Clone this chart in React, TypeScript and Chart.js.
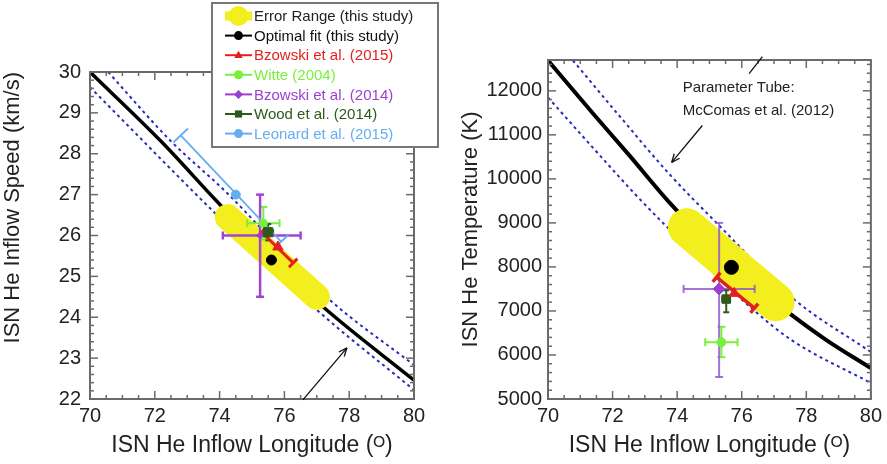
import React, { useEffect, useRef } from "react";
import { Chart, registerables } from "chart.js";

Chart.register(...registerables);

const FONT = "'Liberation Sans', Arial, sans-serif";
Chart.defaults.font.family = FONT;

// ---------- axis ticks ----------
const lonTicks = [70, 72, 74, 76, 78, 80];
const speedTicks = [22, 23, 24, 25, 26, 27, 28, 29, 30];
const tempTicks = [5000, 6000, 7000, 8000, 9000, 10000, 11000, 12000];

// ---------- names ----------
const errorRangeName = "Error Range (this study)";
const studyNames = [
  "Optimal fit (this study)",
  "Bzowski et al. (2015)",
  "Witte (2004)",
  "Bzowski et al. (2014)",
  "Wood et al. (2014)",
  "Leonard et al. (2015)",
];

// ---------- left panel: speed vs longitude ----------
const speedFitLon = [70, 72.2, 73.9, 75.6, 77.2, 80];
const speedFitVal = [30, 28.3, 26.85, 25.45, 24.25, 22.46];
const speedTubeHiLon = [70.56, 72.47, 74.23, 77.31, 80];
const speedTubeHiVal = [30, 28.33, 27.04, 24.49, 22.83];
const speedTubeLoLon = [70, 73.92, 77.0, 80];
const speedTubeLoVal = [29.63, 26.5, 24.18, 22.22];
const speedErrLon = [74.25, 77.0];
const speedErrVal = [26.45, 24.5];

// study points (order = studyNames)
const vLon = [75.6, 75.8, 75.35, 75.25, 75.5, 74.5];
const vSpeed = [25.4, 25.72, 26.3, 26.0, 26.08, 27.0];
const vLonLo = [null, null, 74.85, 74.1, 75.35, null];
const vLonHi = [null, null, 75.85, 76.5, 75.65, null];
const vSpeedLo = [null, null, 25.9, 24.5, 25.88, null];
const vSpeedHi = [null, null, 26.7, 27.0, 26.28, null];
// correlated error segments
const vBz15SegLon = [75.3, 76.27];
const vBz15SegSpeed = [26.08, 25.33];
const vLeoSegLon = [72.8, 75.9];
const vLeoSegSpeed = [28.45, 25.85];

// ---------- right panel: temperature vs longitude ----------
const tempFitLon = [70, 71.4, 72.5, 73.8, 75.68, 77.4, 78.6, 80];
const tempFitVal = [12690, 11480, 10550, 9430, 8010, 6990, 6350, 5700];
const tempTubeHiLon = [70.77, 72.13, 73.77, 75.22, 77.56, 80];
const tempTubeHiVal = [12690, 11500, 10100, 9000, 7300, 6066];
const tempTubeLoLon = [70, 71.4, 72.7, 73.86, 76.4, 77.56, 80];
const tempTubeLoVal = [11850, 10700, 9650, 8780, 7000, 6330, 5363];
const tempErrLon = [74.3, 77.05];
const tempErrVal = [8900, 7200];

const tLon = [75.68, 75.77, 75.37, 75.3, 75.52];
const tTemp = [7990, 7400, 6290, 7500, 7270];
const tLonLo = [null, null, 74.87, 74.2, 75.4];
const tLonHi = [null, null, 75.87, 76.4, 75.64];
const tTempLo = [null, null, 5950, 5500, 6970];
const tTempHi = [null, null, 6640, 9000, 7470];
const tBz15SegLon = [75.22, 76.39];
const tBz15SegTemp = [7766, 7063];

// ---------- styles ----------
const YELLOW = "#f3ee1e";
const TUBE = "#2a2ab8";
const studyColors = ["#000000", "#e3211c", "#78f03c", "#9b3fd1", "#2d5a1b", "#64aef0"];
const studyStyles = ["circle", "triangle", "circle", "rectRot", "rect", "circle"];
const leftRadius = [5, 6, 4, 3.5, 6.5, 4.5];
const rightRadius = [7, 6, 4.5, 6, 6];
const markerOrder = [1, 1, 3, 4, 2, 5];

function pts(xs: number[], ys: number[]) {
  return xs.map((x, i) => ({ x, y: ys[i] }));
}

function line(ctx: CanvasRenderingContext2D, a: number, b: number, c: number, d: number) {
  ctx.beginPath();
  ctx.moveTo(a, b);
  ctx.lineTo(c, d);
  ctx.stroke();
}

function drawMarker(ctx: CanvasRenderingContext2D, style: string, x: number, y: number, r: number, color: string) {
  ctx.fillStyle = color;
  ctx.beginPath();
  if (style === "circle") {
    ctx.arc(x, y, r, 0, Math.PI * 2);
  } else if (style === "triangle") {
    ctx.moveTo(x, y - r);
    ctx.lineTo(x + r * 0.95, y + r * 0.6);
    ctx.lineTo(x - r * 0.95, y + r * 0.6);
    ctx.closePath();
  } else if (style === "rectRot") {
    ctx.moveTo(x, y - r);
    ctx.lineTo(x + r, y);
    ctx.lineTo(x, y + r);
    ctx.lineTo(x - r, y);
    ctx.closePath();
  } else {
    ctx.rect(x - r * 0.8, y - r * 0.8, r * 1.6, r * 1.6);
  }
  ctx.fill();
}

type Bar = { x: number; y: number; xLo: any; xHi: any; yLo: any; yHi: any; color: string; width: number; cap: number };
type Seg = { x1: number; y1: number; x2: number; y2: number; color: string; width: number; cap: number };

function makeErrPlugin(bars: Bar[], segs: Seg[]) {
  return {
    id: "errBars",
    afterDatasetDraw(chart: any, args: any) {
      const ds = chart.data.datasets[args.index];
      if (!ds || !ds.errAfter) return;
      const { ctx, scales } = chart;
      const X = scales.x;
      const Y = scales.y;
      ctx.save();
      ctx.lineCap = "butt";
      for (const b of bars) {
        ctx.strokeStyle = b.color;
        ctx.lineWidth = b.width;
        const px = X.getPixelForValue(b.x);
        const py = Y.getPixelForValue(b.y);
        if (b.xLo != null) {
          const l = X.getPixelForValue(b.xLo);
          const r = X.getPixelForValue(b.xHi);
          line(ctx, l, py, r, py);
          line(ctx, l, py - b.cap, l, py + b.cap);
          line(ctx, r, py - b.cap, r, py + b.cap);
        }
        if (b.yLo != null) {
          const lo = Y.getPixelForValue(b.yLo);
          const hi = Y.getPixelForValue(b.yHi);
          line(ctx, px, lo, px, hi);
          line(ctx, px - b.cap, lo, px + b.cap, lo);
          line(ctx, px - b.cap, hi, px + b.cap, hi);
        }
      }
      for (const s of segs) {
        ctx.strokeStyle = s.color;
        ctx.lineWidth = s.width;
        const x1 = X.getPixelForValue(s.x1);
        const y1 = Y.getPixelForValue(s.y1);
        const x2 = X.getPixelForValue(s.x2);
        const y2 = Y.getPixelForValue(s.y2);
        const L = Math.hypot(x2 - x1, y2 - y1) || 1;
        const nx = (-(y2 - y1) / L) * s.cap;
        const ny = ((x2 - x1) / L) * s.cap;
        line(ctx, x1, y1, x2, y2);
        line(ctx, x1 - nx, y1 - ny, x1 + nx, y1 + ny);
        line(ctx, x2 - nx, y2 - ny, x2 + nx, y2 + ny);
      }
      ctx.restore();
    },
  };
}

function makeFramePlugin(xMajor: number, xMinor: number, yMajor: number, yMinor: number) {
  return {
    id: "frameTicks",
    afterDatasetsDraw(chart: any) {
      const { ctx, chartArea: a, scales } = chart;
      const X = scales.x;
      const Y = scales.y;
      ctx.save();
      ctx.strokeStyle = "#6a6a6a";
      ctx.lineWidth = 1.5;
      const isMaj = (v: number, min: number, step: number) => {
        const q = (v - min) / step;
        return Math.abs(q - Math.round(q)) < 1e-6;
      };
      const nx = Math.round((X.max - X.min) / xMinor);
      for (let i = 0; i <= nx; i++) {
        const v = X.min + i * xMinor;
        const len = isMaj(v, X.min, xMajor) ? 8 : 4;
        const p = X.getPixelForValue(v);
        line(ctx, p, a.bottom, p, a.bottom - len);
        line(ctx, p, a.top, p, a.top + len);
      }
      const y0 = Math.ceil(Y.min / yMinor - 1e-9) * yMinor;
      for (let v = y0; v <= Y.max + 1e-9; v += yMinor) {
        const len = isMaj(v, Math.ceil(Y.min / yMajor - 1e-9) * yMajor, yMajor) ? 8 : 4;
        const p = Y.getPixelForValue(v);
        line(ctx, a.left, p, a.left + len, p);
        line(ctx, a.right, p, a.right - len, p);
      }
      ctx.lineWidth = 2;
      ctx.strokeRect(a.left, a.top, a.right - a.left, a.bottom - a.top);
      ctx.restore();
    },
  };
}

type Arrow = { x1: number; y1: number; x2: number; y2: number; head: boolean };
type Note = { x: number; y: number; text: string };

function makeAnnotPlugin(arrows: Arrow[], notes: Note[]) {
  return {
    id: "annot",
    afterDatasetsDraw(chart: any) {
      const { ctx, scales } = chart;
      const X = scales.x;
      const Y = scales.y;
      ctx.save();
      ctx.strokeStyle = "#111";
      ctx.lineWidth = 1.3;
      for (const a of arrows) {
        const x1 = X.getPixelForValue(a.x1);
        const y1 = Y.getPixelForValue(a.y1);
        const x2 = X.getPixelForValue(a.x2);
        const y2 = Y.getPixelForValue(a.y2);
        line(ctx, x1, y1, x2, y2);
        if (a.head) {
          const ang = Math.atan2(y2 - y1, x2 - x1);
          const h = 9;
          line(ctx, x2, y2, x2 - h * Math.cos(ang - 0.4), y2 - h * Math.sin(ang - 0.4));
          line(ctx, x2, y2, x2 - h * Math.cos(ang + 0.4), y2 - h * Math.sin(ang + 0.4));
        }
      }
      ctx.fillStyle = "#222";
      ctx.font = `15px ${FONT}`;
      ctx.textAlign = "left";
      ctx.textBaseline = "middle";
      for (const n of notes) {
        ctx.fillText(n.text, X.getPixelForValue(n.x), Y.getPixelForValue(n.y));
      }
      ctx.restore();
    },
  };
}

type LegItem = { label: string; color: string; text: string; style: string };

function makeLegendPlugin(items: LegItem[]) {
  return {
    id: "customLegend",
    afterDraw(chart: any) {
      const { ctx } = chart;
      const box = { left: 212, top: 3, right: 438, bottom: 147 };
      ctx.save();
      ctx.fillStyle = "#ffffff";
      ctx.fillRect(box.left, box.top, box.right - box.left, box.bottom - box.top);
      ctx.strokeStyle = "#777";
      ctx.lineWidth = 2;
      ctx.strokeRect(box.left, box.top, box.right - box.left, box.bottom - box.top);
      const x1 = 225;
      const x2 = 252;
      const xm = (x1 + x2) / 2;
      ctx.font = `15px ${FONT}`;
      ctx.textBaseline = "middle";
      ctx.textAlign = "left";
      items.forEach((it, i) => {
        const y = 16 + i * 19.6;
        ctx.strokeStyle = it.color;
        if (it.style === "band") {
          ctx.lineWidth = 9;
          line(ctx, x1, y, x2, y);
          drawMarker(ctx, "circle", xm, y, 10, it.color);
        } else {
          ctx.lineWidth = 2;
          line(ctx, x1, y, x2, y);
          drawMarker(ctx, it.style, xm, y, 4.5, it.color);
        }
        ctx.fillStyle = it.text;
        ctx.fillText(it.label, 254, y + 1);
      });
      ctx.restore();
    },
  };
}

function axisX() {
  return {
    type: "linear",
    min: 70,
    max: 80,
    afterBuildTicks: (s: any) => {
      s.ticks = lonTicks.map((v) => ({ value: v }));
    },
    afterFit: (s: any) => {
      s.height = 65;
    },
    grid: { display: false, drawTicks: false },
    border: { display: false },
    ticks: {
      font: { size: 20, family: FONT },
      color: "#222",
      padding: 5,
      maxRotation: 0,
      autoSkip: false,
      callback: (v: any) => String(v),
    },
    title: {
      display: true,
      text: "ISN He Inflow Longitude (ᴼ)",
      font: { size: 23, family: FONT },
      color: "#222",
      padding: { top: 0, bottom: 5 },
    },
  };
}

function axisY(min: number, max: number, ticks: number[], width: number, title: string, titlePad: number, align: string, tickPad: number) {
  return {
    type: "linear",
    min,
    max,
    afterBuildTicks: (s: any) => {
      s.ticks = ticks.map((v) => ({ value: v }));
    },
    afterFit: (s: any) => {
      s.width = width;
    },
    grid: { display: false, drawTicks: false },
    border: { display: false },
    ticks: {
      font: { size: 20, family: FONT },
      color: "#222",
      padding: tickPad,
      autoSkip: false,
      callback: (v: any) => String(v),
    },
    title: {
      display: true,
      text: title,
      align,
      font: { size: 22, family: FONT },
      color: "#222",
      padding: { top: titlePad, bottom: 0 },
    },
  };
}

function lineDs(label: string, xs: number[], ys: number[], color: string, width: number, dash: number[], order: number) {
  return {
    label,
    data: pts(xs, ys),
    showLine: true,
    borderColor: color,
    backgroundColor: color,
    borderWidth: width,
    borderDash: dash,
    pointRadius: 0,
    cubicInterpolationMode: "monotone",
    order,
  };
}

function bandDs(xs: number[], ys: number[], width: number) {
  return {
    label: errorRangeName,
    data: pts(xs, ys),
    showLine: true,
    borderColor: YELLOW,
    backgroundColor: YELLOW,
    borderWidth: width,
    borderCapStyle: "round",
    pointRadius: 0,
    order: 8,
    errAfter: true,
  };
}

function markerDs(i: number, x: number, y: number, r: number) {
  return {
    label: studyNames[i],
    data: [{ x, y }],
    pointStyle: studyStyles[i],
    pointRadius: r,
    backgroundColor: studyColors[i],
    borderColor: studyColors[i],
    borderWidth: 1,
    order: markerOrder[i],
  };
}

function buildBars(xs: number[], ys: number[], xl: any[], xh: any[], yl: any[], yh: any[], colors: string[], widths: number[], caps: number[]) {
  const out: Bar[] = [];
  xs.forEach((x, i) => {
    if (xl[i] == null && yl[i] == null) return;
    out.push({ x, y: ys[i], xLo: xl[i], xHi: xh[i], yLo: yl[i], yHi: yh[i], color: colors[i], width: widths[i], cap: caps[i] });
  });
  return out;
}

function leftConfig(): any {
  const markers = studyNames.map((_, i) => markerDs(i, vLon[i], vSpeed[i], leftRadius[i]));
  const bars = buildBars(
    vLon, vSpeed, vLonLo, vLonHi, vSpeedLo, vSpeedHi,
    ["", "", "#78f03c", "#a044d4", "#2d5a1b", ""],
    [0, 0, 2, 2.5, 2, 0],
    [0, 0, 4, 4, 3, 0]
  );
  const segs: Seg[] = [
    { x1: vLeoSegLon[0], y1: vLeoSegSpeed[0], x2: vLeoSegLon[1], y2: vLeoSegSpeed[1], color: "#64aef0", width: 1.8, cap: 10 },
    { x1: vBz15SegLon[0], y1: vBz15SegSpeed[0], x2: vBz15SegLon[1], y2: vBz15SegSpeed[1], color: "#e3211c", width: 3, cap: 6 },
  ];
  const legendItems: LegItem[] = [
    { label: errorRangeName, color: YELLOW, text: "#222", style: "band" },
    ...studyNames.map((n, i) => ({ label: n, color: studyColors[i], text: i === 0 ? "#111" : studyColors[i], style: studyStyles[i] })),
  ];
  return {
    type: "scatter",
    data: {
      datasets: [
        lineDs("Optimal fit curve", speedFitLon, speedFitVal, "#000", 3.5, [], 9),
        lineDs("Parameter tube (upper)", speedTubeHiLon, speedTubeHiVal, TUBE, 2, [3, 3.5], 10),
        lineDs("Parameter tube (lower)", speedTubeLoLon, speedTubeLoVal, TUBE, 2, [3, 3.5], 10),
        bandDs(speedErrLon, speedErrVal, 26),
        ...markers,
      ],
    },
    options: {
      responsive: false,
      animation: false,
      layout: { padding: { left: 0, right: 26, top: 72, bottom: 0 } },
      plugins: { legend: { display: false }, tooltip: { enabled: false } },
      scales: {
        x: axisX(),
        y: axisY(22, 30, speedTicks, 90, "ISN He Inflow Speed (km/s)", 0, "end", 9),
      },
    },
    plugins: [
      makeErrPlugin(bars, segs),
      makeFramePlugin(2, 0.5, 1, 0.2),
      makeAnnotPlugin([{ x1: 76.57, y1: 21.98, x2: 77.93, y2: 23.25, head: true }], []),
      makeLegendPlugin(legendItems),
    ],
  };
}

function rightConfig(): any {
  const markers = tLon.map((x, i) => markerDs(i, x, tTemp[i], rightRadius[i]));
  const bars = buildBars(
    tLon, tTemp, tLonLo, tLonHi, tTempLo, tTempHi,
    ["", "", "#78f03c", "rgba(140,80,210,0.8)", "#2d5a1b"],
    [0, 0, 2, 2, 2],
    [0, 0, 4, 4, 3]
  );
  const segs: Seg[] = [
    { x1: tBz15SegLon[0], y1: tBz15SegTemp[0], x2: tBz15SegLon[1], y2: tBz15SegTemp[1], color: "#e3211c", width: 3.5, cap: 6 },
  ];
  return {
    type: "scatter",
    data: {
      datasets: [
        lineDs("Optimal fit curve", tempFitLon, tempFitVal, "#000", 4, [], 9),
        lineDs("Parameter tube (upper)", tempTubeHiLon, tempTubeHiVal, TUBE, 2, [3, 3.5], 10),
        lineDs("Parameter tube (lower)", tempTubeLoLon, tempTubeLoVal, TUBE, 2, [3, 3.5], 10),
        bandDs(tempErrLon, tempErrVal, 38),
        ...markers,
      ],
    },
    options: {
      responsive: false,
      animation: false,
      layout: { padding: { left: 0, right: 15, top: 60, bottom: 0 } },
      plugins: { legend: { display: false }, tooltip: { enabled: false } },
      scales: {
        x: axisX(),
        y: axisY(5000, 12700, tempTicks, 108, "ISN He Temperature (K)", 18, "center", 6),
      },
    },
    plugins: [
      makeErrPlugin(bars, segs),
      makeFramePlugin(2, 0.5, 1000, 200),
      makeAnnotPlugin(
        [
          { x1: 74.78, y1: 11213, x2: 73.83, y2: 10374, head: true },
          { x1: 76.23, y1: 12392, x2: 76.64, y2: 12778, head: false },
        ],
        [
          { x: 74.17, y: 12075, text: "Parameter Tube:" },
          { x: 74.17, y: 11553, text: "McComas et al. (2012)" },
        ]
      ),
    ],
  };
}

export default function App() {
  const leftRef = useRef<HTMLCanvasElement>(null);
  const rightRef = useRef<HTMLCanvasElement>(null);
  useEffect(() => {
    const c1 = new Chart(leftRef.current as HTMLCanvasElement, leftConfig());
    const c2 = new Chart(rightRef.current as HTMLCanvasElement, rightConfig());
    return () => {
      c1.destroy();
      c2.destroy();
    };
  }, []);
  return (
    <div style={{ position: "fixed", left: 0, top: 0, width: 887, height: 464, background: "#fff", overflow: "hidden" }}>
      <canvas ref={leftRef} width={440} height={464} style={{ position: "absolute", left: 0, top: 0 }} />
      <canvas ref={rightRef} width={447} height={464} style={{ position: "absolute", left: 440, top: 0 }} />
    </div>
  );
}
